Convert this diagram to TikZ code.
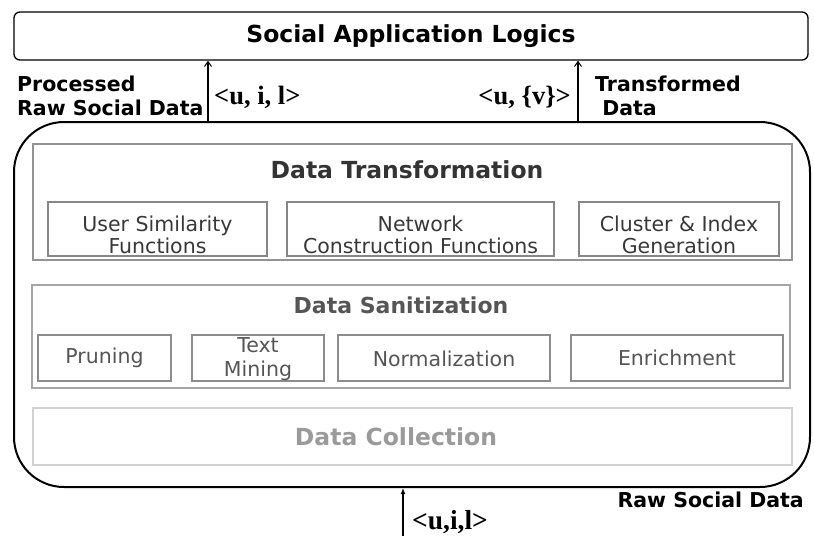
\documentclass[tikz,border=0pt]{standalone}
\usepackage{fontspec}
\setmainfont{Liberation Serif}
\setsansfont{DejaVu Sans}
\usetikzlibrary{arrows.meta}
\definecolor{tgray}{HTML}{333333}
\definecolor{sgray}{HTML}{555555}
\definecolor{cgray}{HTML}{9A9A9A}
\tikzset{
  flow/.style={line width=1.3pt,-{Straight Barb[length=5pt,width=7pt,line width=1pt]}},
  inflow/.style={line width=1.3pt,-{Latex[length=6pt,width=5pt]}},
  lbl/.style={font=\sffamily\bfseries\fontsize{20.5}{24}\selectfont,align=left,inner sep=0pt},
  tuple/.style={font=\bfseries\fontsize{26.5}{30}\selectfont,inner sep=0pt},
  layer/.style={font=\sffamily\bfseries\fontsize{23.5}{28}\selectfont,inner sep=0pt},
  subtxt/.style={font=\sffamily\fontsize{20.5}{22}\selectfont,align=center,inner sep=0pt},
  subbox/.style={line width=1.1pt},
}
\begin{document}
\begin{tikzpicture}[x=1pt,y=-1pt]
\useasboundingbox (0,0) rectangle (814,536);
% application layer on top
\node[draw,line width=1.3pt,rounded corners=6pt,minimum width=794pt,minimum height=48pt,inner sep=0pt,
  font=\sffamily\bfseries\fontsize{23.5}{28}\selectfont] (apps) at (411,36) {Social Application Logics};
% the framework itself
\node[draw,line width=2pt,rounded corners=50pt,minimum width=796pt,minimum height=365pt,inner sep=0pt] (core) at (412,304.5) {};
% data transformation
\draw[color=gray!85,line width=1.2pt] (33,144) rectangle (792,260);
\node[layer,text=tgray] (trans) at (407,170) {Data Transformation};
\draw[subbox,color=gray!95] (48,202) rectangle (267,256);
\draw[subbox,color=gray!95] (287,202) rectangle (554,256);
\draw[subbox,color=gray!95] (579,202) rectangle (779,256);
\node[subtxt,text=black!78] (usim) at (157.5,235) {User Similarity\\Functions};
\node[subtxt,text=black!78] (netc) at (420.5,235) {Network\\Construction Functions};
\node[subtxt,text=black!78] (clus) at (679,235) {Cluster \& Index\\Generation};
% data sanitization
\draw[color=gray!70,line width=1.2pt] (32,285) rectangle (790,388);
\node[layer,text=sgray,font=\sffamily\bfseries\fontsize{22}{26}\selectfont] (sani) at (401,305) {Data Sanitization};
\draw[subbox,color=gray!90] (38,335) rectangle (171,381);
\draw[subbox,color=gray!90] (192,335) rectangle (324,381);
\draw[subbox,color=gray!90] (338,335) rectangle (550,381);
\draw[subbox,color=gray!90] (571,335) rectangle (783,381);
\node[subtxt,text=sgray] (prun) at (104.5,358) {Pruning};
\node[subtxt,text=sgray,font=\sffamily\fontsize{20.5}{24}\selectfont] (tmin) at (258,359) {Text\\Mining};
\node[subtxt,text=sgray] (norm) at (444,359) {Normalization};
\node[subtxt,text=sgray] (enri) at (677,358) {Enrichment};
% data collection
\draw[color=gray!35,line width=1.2pt] (33,408) rectangle (792,465);
\node[layer,text=cgray] (coll) at (396,437) {Data Collection};
% flows between the layers
\draw[flow] (208,0 |- core.north) -- (208,0 |- apps.south);
\draw[flow] (578,0 |- core.north) -- (578,0 |- apps.south);
\coordinate (src) at (403,536);
\draw[inflow] (src) -- (src |- core.south);
\node[lbl,anchor=west] (proc) at (17,96) {Processed\\Raw Social Data};
\node[tuple,anchor=west] (tin) at (214,97) {<u, i, l>};
\node[tuple,anchor=east] (tout) at (571,97) {<u, \{v\}>};
\node[lbl,anchor=west] (tdat) at (595,96) {Transformed\\\ Data};
\node[lbl,anchor=east] (raw) at (804,500) {Raw Social Data};
\node[tuple,anchor=west,font=\bfseries\fontsize{27.5}{30}\selectfont] (tsrc) at (412,522) {<u,i,l>};
\end{tikzpicture}
\end{document}
